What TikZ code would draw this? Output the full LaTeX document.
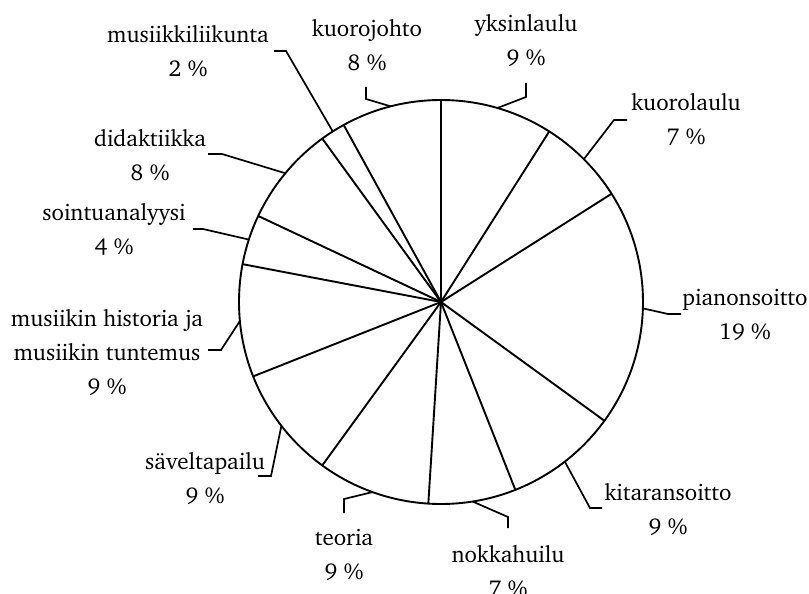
\documentclass[tikz,border=0pt]{standalone}
\usepackage[T1]{fontenc}
\usepackage{charter}
\begin{document}
\begin{tikzpicture}[x=1pt,y=-1pt,
  pieline/.style={line width=1.9pt,line join=round},
  leader/.style={line width=1.7pt,line join=miter},
  lbl/.style={align=center,inner sep=0pt,font=\fontsize{23}{34}\selectfont}]
\useasboundingbox (0,0) rectangle (809,594);
\coordinate (C) at (441,302);
% pie
\draw[pieline] (C) circle[radius=202pt];
\foreach \c in {0,9,16,35,44,51,60,69,78,82,90,92}
  \draw[pieline] (C) -- ++({3.6*\c-90}:202);
% leader start points (slice middles on the rim)
\coordinate (s1)  at ([shift={(-73.8:202)}]C);
\coordinate (s2)  at ([shift={(-45:202)}]C);
\coordinate (s3)  at ([shift={(1.8:202)}]C);
\coordinate (s4)  at ([shift={(52.2:202)}]C);
\coordinate (s5)  at ([shift={(81:202)}]C);
\coordinate (s6)  at ([shift={(109.8:202)}]C);
\coordinate (s7)  at ([shift={(142.2:202)}]C);
\coordinate (s8)  at ([shift={(174.6:202)}]C);
\coordinate (s9)  at ([shift={(198:202)}]C);
\coordinate (s10) at ([shift={(219.6:202)}]C);
\coordinate (s11) at ([shift={(237.6:202)}]C);
\coordinate (s12) at ([shift={(255.6:202)}]C);
% bends and ends
\coordinate (b1) at (526,97);  \coordinate (e1) at (526,83);
\coordinate (b2) at (614,120); \coordinate (e2) at (627,120);
\coordinate (b3) at (668,314); \coordinate (e3) at (681,314);
\coordinate (b4) at (590,508); \coordinate (e4) at (602,508);
\coordinate (b5) at (508,517); \coordinate (e5) at (508,528);
\coordinate (b6) at (344,499); \coordinate (e6) at (344,513);
\coordinate (b7) at (271,476); \coordinate (e7) at (258,476);
\coordinate (b8) at (221,350); \coordinate (e8) at (208,350);
\coordinate (b9) at (203,229); \coordinate (e9) at (193,229);
\coordinate (b10) at (222,154); \coordinate (e10) at (208,154);
\coordinate (b11) at (286,51); \coordinate (e11) at (274,51);
\coordinate (b12) at (366,99); \coordinate (e12) at (366,87);
\foreach \i in {1,...,12}
  \draw[leader] (s\i) -- (b\i) -- (e\i);
% labels
\node[lbl] (l1)  at (526,41)  {yksinlaulu\\9 \%};
\node[lbl] (l2)  at (686,120) {kuorolaulu\\7 \%};
\node[lbl] (l3)  at (745,315) {pianonsoitto\\19 \%};
\node[lbl] (l4)  at (668,509) {kitaransoitto\\9 \%};
\node[lbl] (l5)  at (508,571) {nokkahuilu\\7 \%};
\node[lbl] (l6)  at (344,555) {teoria\\9 \%};
\node[lbl] (l7)  at (205,478) {s\"aveltapailu\\9 \%};
\node[lbl] (l8)  at (107,352) {musiikin historia ja\\musiikin tuntemus\\9 \%};
\node[lbl] (l9)  at (114,230) {sointuanalyysi\\4 \%};
\node[lbl] (l10) at (150,155) {didaktiikka\\8 \%};
\node[lbl] (l11) at (188,51)  {musiikkiliikunta\\2 \%};
\node[lbl] (l12) at (367,45)  {kuorojohto\\8 \%};
\end{tikzpicture}
\end{document}
